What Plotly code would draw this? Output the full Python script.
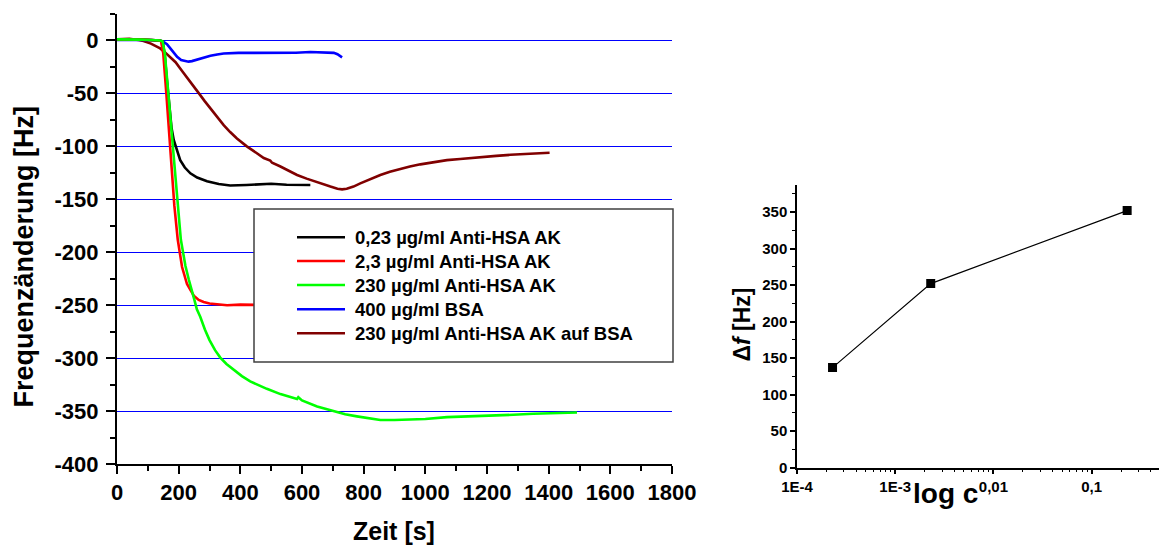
import plotly.graph_objects as go

W, H = 1159, 545

# --- Frequency change over time (QCM measurements) ---
t_black = [0, 40, 80, 110, 130, 140, 148, 155, 162, 170, 177, 184, 195, 205, 220, 238, 260, 292, 330, 367, 420, 476, 500, 550, 590, 627]
f_black = [1, 1.2, 0.8, 0.5, 0.2, 0, -1, -14, -38, -63, -83, -94, -105, -113, -120, -125.5, -129.5, -133, -135.5, -137, -136.5, -135.6, -135.3, -136.3, -136.5, -136.5]

t_red = [0, 40, 80, 110, 130, 138, 143, 150, 160, 170, 178, 186, 197, 211, 227, 249, 265, 281, 300, 313, 357, 400, 443, 500, 560, 620]
f_red = [1, 1.2, 0.8, 0.5, 0.2, 0, -1, -12, -50, -90, -123, -156, -188, -214, -230, -241, -245, -247, -248.5, -249, -250, -249.5, -250, -250, -249.5, -250]

t_green = [0, 40, 80, 110, 130, 140, 148, 155, 165, 175, 181, 188, 198, 207, 213, 222, 233, 242, 251, 259, 270, 285, 300, 318, 335, 355, 378, 405, 432, 460, 486, 530, 570, 584, 588, 593, 600, 649, 703, 740, 778, 820, 854, 900, 950, 1000, 1070, 1150, 1200, 1286, 1350, 1420, 1492]
f_green = [1, 1.2, 0.8, 0.5, 0.2, 0, -1, -12, -45, -80, -97, -125, -157, -188, -198, -213, -226, -237, -245, -254, -261, -273, -283, -292.5, -299.5, -305.5, -311, -317, -322, -326, -329, -334, -338, -338.7, -337, -338.5, -340, -345.6, -350.4, -353, -355, -357, -358.5, -358.5, -358, -357.5, -355.7, -355, -354.5, -353.5, -352.5, -352, -351.3]

t_blue = [0, 40, 80, 110, 130, 140, 151, 162, 173, 184, 195, 208, 221, 232, 243, 256, 270, 286, 303, 325, 346, 394, 450, 490, 530, 580, 627, 660, 690, 703, 715, 730]
f_blue = [0.5, 0.8, 0.5, 0.3, 0, -0.3, -1.3, -3.5, -7.5, -11.5, -15.5, -18.5, -19.7, -20, -19.5, -18.3, -17, -15.5, -14.5, -13.2, -12.3, -11.7, -11.8, -12, -12.2, -11.6, -10.9, -11.2, -11.3, -11.7, -13, -16]

t_dred = [0, 40, 70, 86, 110, 125, 140, 155, 173, 190, 205, 220, 238, 255, 270, 285, 303, 325, 346, 367, 389, 421, 450, 476, 497, 503, 530, 555, 584, 615, 649, 692, 715, 730, 745, 767, 789, 820, 854, 885, 919, 950, 984, 1025, 1070, 1113, 1178, 1230, 1276, 1340, 1403]
f_dred = [1, 1.5, 0.5, -0.5, -3, -5, -7.5, -11, -15.5, -20.5, -26.4, -32, -39, -45.5, -51.6, -57.5, -64, -72.5, -80, -86.5, -92.5, -100, -106, -111, -113.5, -115.5, -119, -123, -127, -130.5, -134, -138, -140, -140.6, -140, -138, -135, -131, -127, -124, -121, -119, -117, -115, -113, -112, -110, -109, -108, -107, -106]

series_names = [
    "0,23 µg/ml Anti-HSA AK",
    "2,3 µg/ml Anti-HSA AK",
    "230 µg/ml Anti-HSA AK",
    "400 µg/ml BSA",
    "230 µg/ml Anti-HSA AK auf BSA",
]
series_colors = ["#000000", "#ff0000", "#00ff00", "#0000ff", "#800000"]
series_t = [t_black, t_red, t_green, t_blue, t_dred]
series_f = [f_black, f_red, f_green, f_blue, f_dred]

# --- Frequency shift vs. concentration ---
conc = [0.00023, 0.0023, 0.23]
delta_f = [137, 252, 352]

x_ticks_left = list(range(0, 1801, 200))
y_ticks_left = list(range(-400, 1, 50))
x_ticks_right = [1e-4, 1e-3, 1e-2, 1e-1]
x_ticktext_right = ["1E-4", "1E-3", "0,01", "0,1"]
y_ticks_right = list(range(0, 351, 50))

FONT = "Liberation Sans, Arial, sans-serif"


def px(x):
    return x / W


def py(y):
    return 1 - y / H


def bold(vals):
    return [f"<b>{v}</b>" for v in vals]


fig = go.Figure()

# dark red first so the other curves sit on top
order = [4, 3, 0, 1, 2]
for i in order:
    fig.add_trace(go.Scatter(
        x=series_t[i], y=series_f[i], mode="lines", name=series_names[i],
        line=dict(color=series_colors[i], width=2.6),
        xaxis="x", yaxis="y", showlegend=False,
    ))

fig.add_trace(go.Scatter(
    x=conc, y=delta_f, mode="lines+markers",
    line=dict(color="black", width=1.2),
    marker=dict(symbol="square", size=9, color="black"),
    xaxis="x2", yaxis="y2", showlegend=False,
))

axis_common = dict(showline=True, linecolor="black", zeroline=False, ticks="outside",
                   tickcolor="black", mirror=False, automargin=False)

fig.update_layout(
    template="none",
    width=W, height=H,
    margin=dict(l=0, r=0, t=0, b=0, pad=0),
    paper_bgcolor="white", plot_bgcolor="white",
    showlegend=False,
    font=dict(family=FONT, color="black"),
    xaxis=dict(
        **axis_common, domain=[px(117), px(672)], range=[0, 1800],
        tickvals=x_ticks_left, ticktext=bold(x_ticks_left), linewidth=2, tickwidth=2, ticklen=8,
        tickfont=dict(size=22, family=FONT, weight="bold"),
        minor=dict(dtick=100, tick0=0, ticks="outside", ticklen=5, tickwidth=1.5, tickcolor="black", showgrid=False),
        showgrid=False, anchor="y",
    ),
    yaxis=dict(
        **axis_common, domain=[py(464), py(14)], range=[-400, 25],
        tickvals=y_ticks_left, ticktext=bold(y_ticks_left), linewidth=2, tickwidth=2, ticklen=9,
        tickfont=dict(size=22, family=FONT, weight="bold"), ticklabelstandoff=3,
        minor=dict(dtick=25, tick0=0, ticks="outside", ticklen=5, tickwidth=1.5, tickcolor="black", showgrid=False),
        showgrid=True, gridcolor="#0000ff", gridwidth=1, anchor="x",
    ),
    xaxis2=dict(
        **axis_common, type="log", domain=[px(797), 1.0], range=[-4, -0.314],
        tickvals=x_ticks_right, ticktext=bold(x_ticktext_right), linewidth=1.5, tickwidth=1.5, ticklen=5,
        tickfont=dict(size=15, family=FONT, weight="bold"),
        minor=dict(tickvals=[m * 10 ** e for e in (-4, -3, -2, -1) for m in range(2, 10)],
                   ticks="outside", ticklen=3, tickwidth=1, tickcolor="black", showgrid=False),
        showgrid=False, anchor="y2",
    ),
    yaxis2=dict(
        **axis_common, domain=[py(467.7), py(185)], range=[0, 387],
        tickvals=y_ticks_right, ticktext=bold(y_ticks_right), linewidth=1.5, tickwidth=1.5, ticklen=5,
        tickfont=dict(size=15, family=FONT, weight="bold"),
        minor=dict(dtick=25, tick0=0, ticks="outside", ticklen=3, tickwidth=1, tickcolor="black", showgrid=False),
        showgrid=False, anchor="x2",
    ),
)

annotations = [
    dict(text="<b>Zeit [s]</b>", x=px(393.5), y=py(531), font=dict(size=25)),
    dict(text="<b>Frequenzänderung [Hz]</b>", x=px(23), y=py(256.5), textangle=-90, font=dict(size=27)),
    dict(text="<b>Δ<i>f</i> [Hz]</b>", x=px(741.5), y=py(325), textangle=-90, font=dict(size=23)),
    dict(text="<b>log c</b>", x=px(945.5), y=py(493.5), font=dict(size=28)),
]
for a in annotations:
    a.update(xref="paper", yref="paper", xanchor="center", yanchor="middle", showarrow=False)
    a["font"].update(family=FONT, color="black")

# legend box drawn over the curves
shapes = [dict(type="rect", xref="paper", yref="paper", x0=px(254), x1=px(673), y0=py(362), y1=py(209),
               fillcolor="white", line=dict(color="#404040", width=1.5), layer="above")]
row_y = [237.3, 261, 285, 309.3, 333.3]
for name, color, yy in zip(series_names, series_colors, row_y):
    shapes.append(dict(type="line", xref="paper", yref="paper", x0=px(297), x1=px(345), y0=py(yy), y1=py(yy),
                       line=dict(color=color, width=2.6), layer="above"))
    annotations.append(dict(text=f"<b>{name}</b>", x=px(353), y=py(yy), xref="paper", yref="paper",
                            xanchor="left", yanchor="middle", showarrow=False,
                            font=dict(size=18.5, family=FONT, color="black")))

fig.update_layout(shapes=shapes, annotations=annotations)

fig.write_html("out.html")
